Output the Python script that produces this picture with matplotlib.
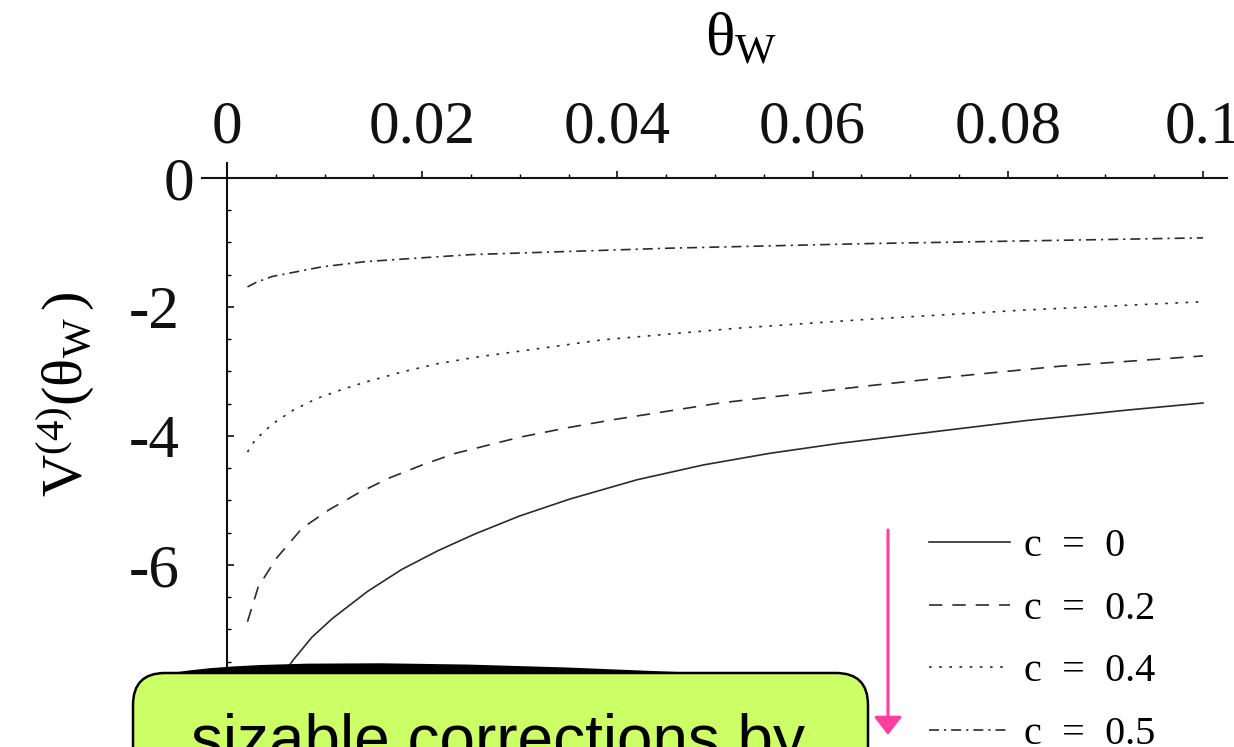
import numpy as np
import matplotlib
matplotlib.use("Agg")
import matplotlib.pyplot as plt
from matplotlib.ticker import MultipleLocator
from matplotlib.transforms import Affine2D, ScaledTranslation
from matplotlib.patches import FancyBboxPatch, PathPatch, FancyArrowPatch
from matplotlib.path import Path

# ---------------- data ----------------
x_c0 = [0.0050, 0.0068, 0.0087, 0.0108, 0.0144, 0.0179, 0.0216, 0.0254, 0.0300,
        0.0351, 0.0420, 0.0488, 0.0556, 0.0625, 0.0700, 0.0820, 0.0922, 0.1000]
y_c0 = [-7.85, -7.47, -7.12, -6.83, -6.41, -6.07, -5.78, -5.52, -5.24,
        -4.98, -4.68, -4.45, -4.27, -4.12, -3.98, -3.76, -3.60, -3.49]

x_c02 = [0.0021, 0.0032, 0.0051, 0.0077, 0.0104, 0.0134, 0.0165, 0.0200, 0.0234,
         0.0300, 0.0350, 0.0395, 0.0505, 0.0659, 0.0751, 0.0853, 0.1000]
y_c02 = [-6.88, -6.34, -5.89, -5.43, -5.15, -4.89, -4.66, -4.45, -4.27,
         -4.02, -3.87, -3.75, -3.49, -3.22, -3.07, -2.92, -2.76]

x_c04 = [0.0021, 0.0029, 0.0047, 0.0068, 0.0092, 0.0118, 0.0141, 0.0179, 0.0216,
         0.0255, 0.0385, 0.0523, 0.0659, 0.0816, 0.1000]
y_c04 = [-4.25, -4.06, -3.81, -3.60, -3.42, -3.28, -3.17, -3.01, -2.88,
         -2.78, -2.51, -2.33, -2.19, -2.05, -1.92]

x_c05 = [0.0021, 0.0030, 0.0046, 0.0097, 0.0141, 0.0179, 0.0250, 0.0454, 0.0654,
         0.1000]
y_c05 = [-1.69, -1.62, -1.53, -1.38, -1.30, -1.26, -1.19, -1.09, -1.02,
         -0.93]

series_labels = ["c  =  0", "c  =  0.2", "c  =  0.4", "c  =  0.5"]

x_tick_vals = [0, 0.02, 0.04, 0.06, 0.08, 0.1]
x_tick_labels = ["0", "0.02", "0.04", "0.06", "0.08", "0.1"]
y_tick_vals = [0, -2, -4, -6]
y_tick_labels = ["0", "-2", "-4", "-6"]

note_text = "sizable corrections by"

# ---------------- style ----------------
plt.rcParams["font.family"] = ["Liberation Serif", "DejaVu Serif"]
plt.rcParams["mathtext.fontset"] = "custom"
plt.rcParams["mathtext.rm"] = "Liberation Serif"
plt.rcParams["mathtext.it"] = "Liberation Serif:italic"
plt.rcParams["axes.unicode_minus"] = False

W_PX, H_PX = 1234, 747
fig = plt.figure(figsize=(W_PX / 100, H_PX / 100), dpi=100)
fig.patch.set_facecolor("white")

# pixel (top-left origin) -> figure transform
pix = Affine2D().scale(1 / W_PX, -1 / H_PX).translate(0, 1) + fig.transFigure

left_px, right_px, top_px, bot_px = 202, 1227, 163, 694
ax = fig.add_axes([left_px / W_PX, 1 - bot_px / H_PX,
                   (right_px - left_px) / W_PX, (bot_px - top_px) / H_PX])
ax.set_xlim(-0.00256, 0.10246)
ax.set_ylim(-8.0, 0.23)

line_col = "#2b2b2b"
ax.plot(x_c0, y_c0, color=line_col, lw=1.2, ls="-", label=series_labels[0])
ax.plot(x_c02, y_c02, color=line_col, lw=1.2, ls=(0, (8, 6)), label=series_labels[1])
ax.plot(x_c04, y_c04, color=line_col, lw=1.2, ls=(0, (1.6, 4.5)), label=series_labels[2])
ax.plot(x_c05, y_c05, color=line_col, lw=1.2, ls=(0, (6, 3, 1.3, 3)), label=series_labels[3])

# axes through origin
for s in ("right", "bottom"):
    ax.spines[s].set_visible(False)
ax.spines["left"].set_position(("data", 0))
ax.spines["top"].set_position(("data", 0))
for s in ("left", "top"):
    ax.spines[s].set_linewidth(1.5)
    ax.spines[s].set_color("#111111")

ax.xaxis.tick_top()
ax.xaxis.set_label_position("top")
ax.set_xticks(x_tick_vals)
ax.set_xticklabels(x_tick_labels)
ax.xaxis.set_minor_locator(MultipleLocator(0.005))
ax.tick_params(axis="x", which="major", direction="out", length=5, width=1.2,
               labelsize=44, pad=11, colors="#111111")
ax.tick_params(axis="x", which="minor", direction="out", length=3, width=1.0)

ax.set_yticks(y_tick_vals)
ax.set_yticklabels(y_tick_labels)
ax.yaxis.set_minor_locator(MultipleLocator(0.5))
ax.tick_params(axis="y", which="major", direction="in", length=5, width=1.2,
               labelsize=44, pad=34, colors="#111111")
ax.tick_params(axis="y", which="minor", direction="in", length=3, width=1.0)
# the origin label sits closer to the axis
lab0 = ax.get_yticklabels()[0]
lab0.set_transform(lab0.get_transform() + ScaledTranslation(14 / 100, 0, fig.dpi_scale_trans))

ax.set_xlabel(r"$\mathrm{\theta}_{\mathrm{W}}$", fontsize=44, va="center", ha="center")
ax.xaxis.set_label_coords(0.526, 1.232)
ax.set_ylabel(r"$\mathrm{V}^{(4)}(\mathrm{\theta}_{\mathrm{W}}\,)$", fontsize=42,
              va="center", ha="center")
ax.yaxis.set_label_coords(-0.133, 0.565)

leg = ax.legend(loc="upper left", bbox_to_anchor=(929 / W_PX, 1 - 528 / H_PX),
                bbox_transform=fig.transFigure, frameon=False, fontsize=29,
                handlelength=2.0, handletextpad=0.35, labelspacing=0.63,
                borderpad=0, borderaxespad=0)

# pink arrow
arrow = FancyArrowPatch((888, 530), (888, 735), transform=pix,
                        arrowstyle="-|>,head_length=11,head_width=8.5",
                        mutation_scale=1, color="#ff3fa0", lw=2.2,
                        shrinkA=0, shrinkB=0)
fig.add_artist(arrow)

# black curved strip above the note box
blob = Path([(150, 678), (240, 650), (740, 675), (740, 695), (150, 695), (150, 678)],
            [Path.MOVETO, Path.CURVE3, Path.CURVE3, Path.LINETO, Path.LINETO, Path.CLOSEPOLY])
fig.add_artist(PathPatch(blob, transform=pix, facecolor="black", edgecolor="none", zorder=2))

# green note box
box = FancyBboxPatch((133, 673), 735, 140, boxstyle="round,pad=0,rounding_size=32",
                     transform=pix, facecolor="#ccff66", edgecolor="black", lw=1.8, zorder=3)
fig.add_artist(box)
fig.text(498, 760, note_text, transform=pix, ha="center", va="baseline",
         fontsize=46, family="Liberation Sans", color="black", zorder=4)

fig.savefig("out.png", dpi=100)
